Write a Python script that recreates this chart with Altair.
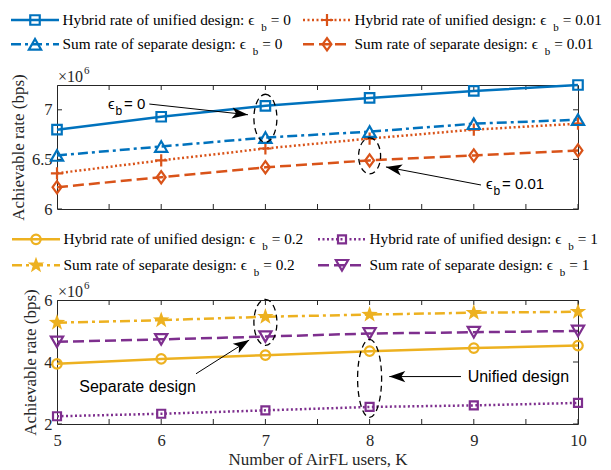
import math
import altair as alt
import pandas as pd

# ---------------- data (rates in units of 10^6 bps) ----------------
K = [5, 6, 7, 8, 9, 10]

hybrid_eps0 = [6.80, 6.93, 7.04, 7.12, 7.19, 7.25]
separate_eps0 = [6.54, 6.63, 6.72, 6.78, 6.86, 6.90]
hybrid_eps001 = [6.36, 6.49, 6.61, 6.71, 6.80, 6.86]
separate_eps001 = [6.22, 6.32, 6.42, 6.49, 6.54, 6.59]

hybrid_eps02 = [3.94, 4.10, 4.22, 4.35, 4.45, 4.53]
hybrid_eps1 = [2.25, 2.33, 2.44, 2.55, 2.60, 2.68]
separate_eps02 = [5.27, 5.35, 5.46, 5.53, 5.59, 5.62]
separate_eps1 = [4.65, 4.73, 4.82, 4.92, 4.96, 5.00]

hybrid_prefix = "Hybrid rate of unified design:"
separate_prefix = "Sum rate of separate design:"

x_tick_labels = [5, 6, 7, 8, 9, 10]
x_minor_ticks = [5, 5.5, 6, 6.5, 7, 7.5, 8, 8.5, 9, 9.5, 10]
top_y_ticks = [6, 6.5, 7]
bottom_y_ticks = [2, 4, 6]
top_y_domain = [6, 7.25]
bottom_y_domain = [2, 6]

y_title = "Achievable rate (bps)"
x_title = "Number of AirFL users, K"

# annotations (data coordinates)
top_eps_notes = [  # K, rate, value text
    (5.49, 7.058, "= 0"),
    (9.117, 6.249, "= 0.01"),
]
top_arrows = [  # K start, rate start, K tip, rate tip, angle
    (5.886, 7.058, 6.833, 6.95, 6.2),
    (9.069, 6.242, 8.157, 6.424, 190.7),
]
top_ellipses = [  # K, rate, width px, height px
    (7, 6.915, 23, 48),
    (8, 6.535, 22, 36),
]
bottom_notes = [
    (5.214, 3.20, "Separate design"),
    (8.941, 3.52, "Unified design"),
]
bottom_arrows = [
    (6.334, 3.62, 6.845, 4.71, 327.8),
    (8.877, 3.53, 8.189, 3.53, 180.0),
]
bottom_ellipses = [
    (7, 5.28, 23, 46),
    (8, 3.47, 24, 78),
]

# ---------------- styles ----------------
SERIF = "Liberation Serif"
SANS = "Liberation Sans"
AX = "#262626"
BLUE = "#0072BD"
ORANGE = "#D95319"
YELLOW = "#EDB120"
PURPLE = "#7E2F8E"

W = 521          # plot width
PH = 124         # plot height
LH_TOP = 76      # top legend band
LH_BOT = 91      # bottom legend band

DOT = [2, 2.5]
DASH = [11, 5]
DASHDOT = [10, 4, 3, 4]

PLUS = "M-1,0L1,0M0,-1L0,1"
DIAMOND = "M-0.72,0L0,-1L0.72,0L0,1Z"
ARROW = "M0,0L-2,-0.7L-1.5,0L-2,0.7Z"


def star_path():
    pts = []
    for i in range(10):
        r = 1.0 if i % 2 == 0 else 0.40
        a = math.radians(-90 + 36 * i)
        pts.append(f"{r*math.cos(a):.3f},{r*math.sin(a):.3f}")
    return "M" + "L".join(pts) + "Z"


STAR = star_path()


def ellipse_path(w, h):
    a = (w / 2) / (h / 2)
    return f"M0,-1 A{a:.3f},1 0 1 1 0,1 A{a:.3f},1 0 1 1 0,-1 Z"


top_series = [
    (hybrid_eps0, hybrid_prefix, "0", dict(color=BLUE, dash=None, shape="square", size=90, filled=False)),
    (hybrid_eps001, hybrid_prefix, "0.01", dict(color=ORANGE, dash=DOT, shape=PLUS, size=150, filled=False)),
    (separate_eps0, separate_prefix, "0", dict(color=BLUE, dash=DASHDOT, shape="triangle-up", size=150, filled=False)),
    (separate_eps001, separate_prefix, "0.01", dict(color=ORANGE, dash=DASH, shape=DIAMOND, size=150, filled=False)),
]
bottom_series = [
    (hybrid_eps02, hybrid_prefix, "0.2", dict(color=YELLOW, dash=None, shape="circle", size=90, filled=False)),
    (hybrid_eps1, hybrid_prefix, "1", dict(color=PURPLE, dash=DOT, shape="square", size=64, filled=False)),
    (separate_eps02, separate_prefix, "0.2", dict(color=YELLOW, dash=DASHDOT, shape=STAR, size=300, filled=True)),
    (separate_eps1, separate_prefix, "1", dict(color=PURPLE, dash=DASH, shape="triangle-down", size=150, filled=False)),
]

TIMES_W = {' ': 250, 'H': 722, 'S': 556, 'y': 500, 'b': 500, 'r': 333, 'i': 278, 'd': 500,
           'a': 444, 't': 278, 'e': 444, 'o': 500, 'f': 333, 'u': 500, 'n': 500, 's': 389,
           'g': 500, ':': 278, 'p': 500, 'm': 778}
LEG_FS = 15.3


def text_width(s, size):
    return sum(TIMES_W.get(c, 500) for c in s) * size / 1000.0


def line_kw(dash):
    return {} if dash is None else {"strokeDash": dash}


# ---------------- legend ----------------
def legend(series, col_x, row_y, height):
    layers = []
    PX = alt.X("x:Q", scale=None, axis=None)
    PY = alt.Y("y:Q", scale=None, axis=None)
    for i, (_, prefix, eps, st) in enumerate(series):
        x0 = col_x[i % 2]
        y0 = row_y[i // 2]
        tx = x0 + 51.5
        ex = tx + text_width(prefix + " ", LEG_FS)
        d = pd.DataFrame({"x": [x0], "x1": [x0 + 48], "xm": [x0 + 24], "y": [y0],
                          "tx": [tx], "ex": [ex], "prefix": [prefix], "eq": ["= " + eps]})
        base = alt.Chart(d)
        layers.append(base.mark_rule(color=st["color"], strokeWidth=2.5, **line_kw(st["dash"]))
                      .encode(x=PX, x2="x1:Q", y=PY))
        layers.append(base.mark_point(shape=st["shape"], size=st["size"], filled=st["filled"],
                                      color=st["color"], strokeWidth=2.2, opacity=1)
                      .encode(x=alt.X("xm:Q", scale=None, axis=None), y=PY))
        layers.append(base.mark_text(align="left", baseline="alphabetic", dy=5, font=SERIF,
                                     fontSize=LEG_FS, color="black")
                      .encode(x=alt.X("tx:Q", scale=None, axis=None), y=PY, text="prefix:N"))
        EX = alt.X("ex:Q", scale=None, axis=None)
        layers.append(base.mark_text(align="left", baseline="alphabetic", dy=5, font=SERIF,
                                     fontSize=LEG_FS, color="black", text="ϵ")
                      .encode(x=EX, y=PY))
        layers.append(base.mark_text(align="left", baseline="alphabetic", dx=13, dy=11, font=SERIF,
                                     fontSize=11, color="black", text="b")
                      .encode(x=EX, y=PY))
        layers.append(base.mark_text(align="left", baseline="alphabetic", dx=22.5, dy=5, font=SERIF,
                                     fontSize=LEG_FS, color="black")
                      .encode(x=EX, y=PY, text="eq:N"))
    return alt.layer(*layers).properties(
        width=W, height=height, view=alt.ViewBackground(stroke="transparent"))


# ---------------- panel ----------------
def panel(series, ydomain, yticks, show_x, title_x, eps_notes, notes, arrows, ellipses):
    xs = alt.Scale(domain=[5, 10], nice=False, zero=False)
    ys = alt.Scale(domain=ydomain, nice=False, zero=False)
    if show_x:
        xaxis = alt.Axis(values=x_tick_labels, format="d", ticks=False, tickSize=0, domain=False,
                         grid=False, labelFont=SERIF, labelFontSize=16.5, labelColor=AX,
                         labelPadding=8, labelFlush=False, labelOverlap=False,
                         title=x_title, titleFont=SERIF, titleFontSize=17,
                         titleFontWeight="normal", titleColor=AX, titlePadding=3)
    else:
        xaxis = None
    yaxis = alt.Axis(values=yticks, format="~g", ticks=False, tickSize=0, domain=False, grid=False,
                     labelFont=SERIF, labelFontSize=16.5, labelColor=AX, labelPadding=5,
                     labelFlush=False, labelOverlap=False,
                     title=y_title, titleFont=SERIF, titleFontSize=17, titleFontWeight="normal",
                     titleColor=AX, titleX=title_x, titleBaseline="middle")

    def X(f):
        return alt.X(f, type="quantitative", scale=xs, axis=xaxis)

    def Y(f):
        return alt.Y(f, type="quantitative", scale=ys, axis=yaxis)

    layers = []
    # inward ticks on all four sides
    xt = alt.Chart(pd.DataFrame({"t": x_minor_ticks}))
    yt = alt.Chart(pd.DataFrame({"t": yticks}))
    for yv in (0, PH):
        layers.append(xt.mark_tick(orient="vertical", size=10, thickness=1, color=AX, clip=True,
                                   opacity=1).encode(x=X("t"), y=alt.value(yv)))
    for xv in (0, W):
        layers.append(yt.mark_tick(orient="horizontal", size=10, thickness=1, color=AX, clip=True,
                                   opacity=1).encode(y=Y("t"), x=alt.value(xv)))

    for vals, _, _, st in series:
        df = alt.Chart(pd.DataFrame({"K": K, "v": vals}))
        layers.append(df.mark_line(color=st["color"], strokeWidth=2.5, **line_kw(st["dash"]))
                      .encode(x=X("K"), y=Y("v")))
        layers.append(df.mark_point(shape=st["shape"], size=st["size"], filled=st["filled"],
                                    color=st["color"], strokeWidth=2.2, opacity=1)
                      .encode(x=X("K"), y=Y("v")))

    # dashed ellipses
    for k, v, w, h in ellipses:
        layers.append(alt.Chart(pd.DataFrame({"K": [k], "v": [v]}))
                      .mark_point(shape=ellipse_path(w, h), size=h * h, filled=False, color="black",
                                  strokeWidth=1.3, strokeDash=[6, 4], opacity=1)
                      .encode(x=X("K"), y=Y("v")))
    # arrows
    for k1, v1, k2, v2, ang in arrows:
        d = alt.Chart(pd.DataFrame({"K": [k1], "v": [v1], "K2": [k2], "v2": [v2]}))
        layers.append(d.mark_rule(color="black", strokeWidth=1)
                      .encode(x=X("K"), y=Y("v"), x2="K2:Q", y2="v2:Q"))
        layers.append(d.mark_point(shape=ARROW, size=256, filled=True, color="black", opacity=1,
                                   angle=ang, strokeWidth=0)
                      .encode(x=X("K2"), y=Y("v2")))
    # epsilon notes
    for k, v, eq in eps_notes:
        d = alt.Chart(pd.DataFrame({"K": [k], "v": [v], "eq": [eq]}))
        layers.append(d.mark_text(align="left", baseline="middle", font=SANS, fontSize=15,
                                  color="black", text="ϵ").encode(x=X("K"), y=Y("v")))
        layers.append(d.mark_text(align="left", baseline="middle", font=SANS, fontSize=12, dx=7.5,
                                  dy=7, color="black", text="b").encode(x=X("K"), y=Y("v")))
        layers.append(d.mark_text(align="left", baseline="middle", font=SANS, fontSize=15, dx=16,
                                  color="black").encode(x=X("K"), y=Y("v"), text="eq:N"))
    for k, v, t in notes:
        d = alt.Chart(pd.DataFrame({"K": [k], "v": [v], "t": [t]}))
        layers.append(d.mark_text(align="left", baseline="middle", font=SANS, fontSize=16,
                                  color="black").encode(x=X("K"), y=Y("v"), text="t:N"))

    # x10^6 exponent label
    ex = alt.Chart(pd.DataFrame({"t": ["×10"], "e": ["6"]}))
    layers.append(ex.mark_text(align="left", baseline="middle", font=SERIF, fontSize=16, color=AX)
                  .encode(x=alt.value(1), y=alt.value(-8), text="t:N"))
    layers.append(ex.mark_text(align="left", baseline="middle", font=SERIF, fontSize=11, color=AX)
                  .encode(x=alt.value(27), y=alt.value(-14), text="e:N"))

    return alt.layer(*layers).properties(
        width=W, height=PH, view=alt.ViewBackground(stroke=AX, strokeWidth=1))


leg_top = legend(top_series, col_x=[-46, 246], row_y=[11, 35.3], height=LH_TOP)
top = panel(top_series, top_y_domain, top_y_ticks, False, -38.5, top_eps_notes, [], top_arrows,
            top_ellipses)
leg_bot = legend(bottom_series, col_x=[-45, 261], row_y=[30.3, 56.3], height=LH_BOT)
bottom = panel(bottom_series, bottom_y_domain, bottom_y_ticks, True, -27, [], bottom_notes,
               bottom_arrows, bottom_ellipses)

chart = alt.vconcat(leg_top, top, leg_bot, bottom, spacing=0, bounds="flush").properties(
    padding={"left": 0, "top": 0, "right": 0, "bottom": 0}
).configure(background="white")

chart.save("out.html", embed_options={"renderer": "svg", "actions": False})
